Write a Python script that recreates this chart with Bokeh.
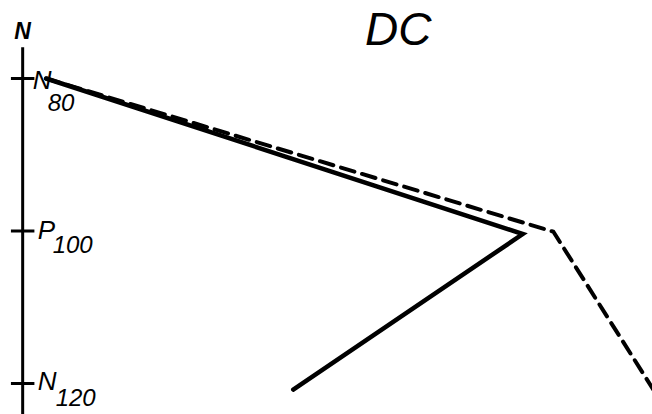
from bokeh.plotting import figure
from bokeh.models import Range1d, ColumnDataSource
from bokeh.core.properties import value
from bokeh.embed import file_html
from bokeh.resources import INLINE

# Components marked on the vertical (latency) axis
tick_values = [80, 100, 120]
tick_letters = ["N", "P", "N"]
tick_subscripts = ["80", "100", "120"]

# Solid trace: position across the panel vs. latency
solid_x = [7.0, 80.1, 44.9]
solid_y = [80.0, 100.4, 120.8]

# Dashed trace
dashed_x = [7.0, 84.8, 102.5]
dashed_y = [80.0, 100.1, 124.0]

axis_x = 3.4
title_text = "DC"
axis_title = "N"

FONT = value("Liberation Sans")
INK = "#000000"

p = figure(width=652, height=414,
           x_range=Range1d(0, 100), y_range=Range1d(124.07, 69.77),
           x_axis_location=None, y_axis_location=None,
           output_backend="svg", toolbar_location=None, min_border=0)
p.grid.visible = False
p.outline_line_color = None
p.background_fill_color = "white"
p.border_fill_color = "white"

# hand-drawn style vertical axis with crossing ticks
p.segment(x0=[axis_x], y0=[75.9], x1=[axis_x], y1=[p.y_range.start],
          line_color=INK, line_width=3)
p.segment(x0=[axis_x - 1.8] * 3, y0=tick_values, x1=[axis_x + 1.8] * 3, y1=tick_values,
          line_color=INK, line_width=3)

# tick labels: letter plus subscript latency, drawn right of the axis
letter_dx = [10, 15, 15]
letter_dy = [2, -1, -2]
sub_dx = [25, 30, 33]
sub_dy = [24, 14, 14]
src = ColumnDataSource(dict(x=[axis_x] * 3, y=tick_values,
                            letter=tick_letters, sub=tick_subscripts,
                            ldx=letter_dx, ldy=letter_dy, sdx=sub_dx, sdy=sub_dy))

# traces
p.line(dashed_x, dashed_y, line_color=INK, line_width=4, line_dash="14 8",
       line_cap="round", line_join="round")
p.line(solid_x, solid_y, line_color=INK, line_width=4.5,
       line_cap="round", line_join="miter")

p.text(x="x", y="y", text="letter", x_offset="ldx", y_offset="ldy", source=src,
       text_font=FONT, text_font_style="italic", text_font_size="26px",
       text_align="left", text_baseline="middle", text_color=INK)
p.text(x="x", y="y", text="sub", x_offset="sdx", y_offset="sdy", source=src,
       text_font=FONT, text_font_style="italic", text_font_size="24px",
       text_align="left", text_baseline="middle", text_color=INK)

# axis caption and panel title
p.text(x=[axis_x], y=[75.9], text=[axis_title], y_offset=-16,
       text_font=FONT, text_font_style="bold italic", text_font_size="23px",
       text_align="center", text_baseline="middle", text_color=INK)
p.text(x=[61.0], y=[75.9], text=[title_text], y_offset=-18,
       text_font=FONT, text_font_style="italic", text_font_size="46px",
       text_align="center", text_baseline="middle", text_color=INK)

open("out.html", "w").write(file_html(p, INLINE))
